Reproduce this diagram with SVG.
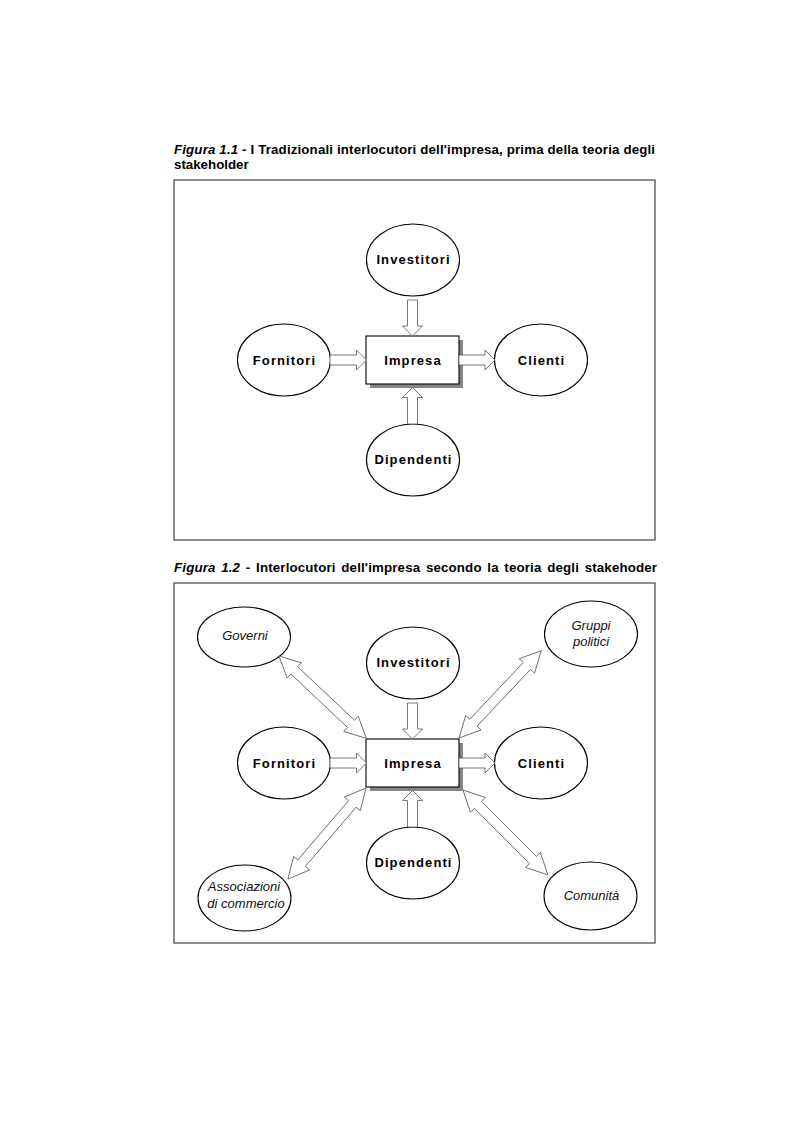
<svg xmlns="http://www.w3.org/2000/svg" xmlns:xlink="http://www.w3.org/1999/xlink" width="793" height="1123" viewBox="0 0 793 1123">
<style>
.frame{fill:none;stroke:#444;stroke-width:1.2}
.ell{fill:#fff;stroke:#000;stroke-width:1.1}
.box{fill:#fff;stroke:#000;stroke-width:1.1}
.shadow{fill:#858585;stroke:none}
.arr{fill:#fff;stroke:#555;stroke-width:0.8;stroke-linejoin:miter}
.lb{font-family:"Liberation Sans",Arial,sans-serif;font-weight:bold;font-size:13px;letter-spacing:1.1px;text-anchor:middle;fill:#000}
.li{font-family:"Liberation Sans",Arial,sans-serif;font-style:italic;font-size:13px;text-anchor:middle;fill:#111}
.cap{font-family:"Liberation Sans",Arial,sans-serif;font-weight:bold;font-size:13.3px;fill:#000}
.capi{font-style:italic}
</style>
<defs>
<path id="dbl" d="M0,0 L21,-10.5 L21,-5 L99,-5 L99,-10.5 L120,0 L99,10.5 L99,5 L21,5 L21,10.5 Z"/>
</defs>
<rect width="793" height="1123" fill="#fff"/>

<!-- Caption 1 -->
<g id="caption1">
<text class="cap" x="174" y="154" textLength="481" lengthAdjust="spacing"><tspan class="capi">Figura 1.1</tspan> - I Tradizionali interlocutori dell'impresa, prima della teoria degli</text>
<text class="cap" x="174" y="169">stakeholder</text>
</g>
<rect id="frame1" class="frame" x="174" y="180" width="481" height="360"/>

<!-- Figure 1 nodes -->
<g id="f1-investitori"><ellipse class="ell" cx="413" cy="260" rx="46.5" ry="36"/><text class="lb" x="413.5" y="263.5">Investitori</text></g>
<g id="f1-fornitori"><ellipse class="ell" cx="284" cy="360" rx="46.5" ry="36"/><text class="lb" x="284.5" y="364.5">Fornitori</text></g>
<g id="f1-clienti"><ellipse class="ell" cx="541" cy="360" rx="46.5" ry="36"/><text class="lb" x="541.5" y="364.5">Clienti</text></g>
<g id="f1-dipendenti"><ellipse class="ell" cx="413" cy="460" rx="46.5" ry="36"/><text class="lb" x="413.5" y="463.5">Dipendenti</text></g>
<g id="f1-impresa"><rect class="shadow" x="370" y="340" width="93" height="48"/><rect class="box" x="366" y="336" width="93" height="48"/><text class="lb" x="413" y="364.5">Impresa</text></g>

<g id="f1-connectors">
<path class="arr" d="M407.5,300 H417.5 V326 H422.5 L412.5,336 L402.5,326 H407.5 Z"/>
<path class="arr" d="M330,355 V365 H356.5 V370 L366.5,360 L356.5,350 V355 Z"/>
<path class="arr" d="M459,355 V365 H485 V370 L495,360 L485,350 V355 Z"/>
<path class="arr" d="M407.5,424 H417.5 V397.5 H422.5 L412.5,387.5 L402.5,397.5 H407.5 Z"/>
</g>

<!-- Caption 2 -->
<g id="caption2">
<text class="cap" x="174" y="572" textLength="483" lengthAdjust="spacing" word-spacing="1.8"><tspan class="capi">Figura 1.2</tspan> - Interlocutori dell'impresa secondo la teoria degli stakehoder</text>
</g>
<rect id="frame2" class="frame" x="174" y="583" width="481" height="360"/>

<!-- Figure 2 nodes -->
<g id="f2-governi"><ellipse class="ell" cx="244" cy="637" rx="46.5" ry="30"/><text class="li" x="245" y="640">Governi</text></g>
<g id="f2-gruppi"><ellipse class="ell" cx="591" cy="634" rx="46.5" ry="33"/><text class="li" x="591" y="630">Gruppi</text><text class="li" x="591" y="646">politici</text></g>
<g id="f2-associazioni"><ellipse class="ell" cx="244.5" cy="898" rx="46.5" ry="33"/><text class="li" x="244" y="891">Associazioni</text><text class="li" x="246" y="908">di commercio</text></g>
<g id="f2-comunita"><ellipse class="ell" cx="590.5" cy="896" rx="46.5" ry="34"/><text class="li" x="591.5" y="900">Comunità</text></g>
<g id="f2-investitori"><ellipse class="ell" cx="413" cy="663" rx="46.5" ry="36"/><text class="lb" x="413.5" y="666.5">Investitori</text></g>
<g id="f2-fornitori"><ellipse class="ell" cx="284" cy="763" rx="46.5" ry="36"/><text class="lb" x="284.5" y="767.5">Fornitori</text></g>
<g id="f2-clienti"><ellipse class="ell" cx="541" cy="763" rx="46.5" ry="36"/><text class="lb" x="541.5" y="767.5">Clienti</text></g>
<g id="f2-dipendenti"><ellipse class="ell" cx="413" cy="863" rx="46.5" ry="36"/><text class="lb" x="413.5" y="866.5">Dipendenti</text></g>
<g id="f2-impresa"><rect class="shadow" x="370" y="743" width="93" height="48"/><rect class="box" x="366" y="739" width="93" height="48"/><text class="lb" x="413" y="767.5">Impresa</text></g>

<g id="f2-connectors">
<path class="arr" d="M407.5,703 H417.5 V729 H422.5 L412.5,739 L402.5,729 H407.5 Z"/>
<path class="arr" d="M330,758 V768 H356.5 V773 L366.5,763 L356.5,753 V758 Z"/>
<path class="arr" d="M459,758 V768 H485 V773 L495,763 L485,753 V758 Z"/>
<path class="arr" d="M407.5,827 H417.5 V800.5 H422.5 L412.5,790.5 L402.5,800.5 H407.5 Z"/>
<use class="arr" xlink:href="#dbl" transform="translate(279,656) rotate(43.3)"/>
<use class="arr" xlink:href="#dbl" transform="translate(459,738) rotate(-46.7)"/>
<use class="arr" xlink:href="#dbl" transform="translate(366,788) rotate(130.6)"/>
<use class="arr" xlink:href="#dbl" transform="translate(463,790) rotate(45)"/>
</g>
</svg>
